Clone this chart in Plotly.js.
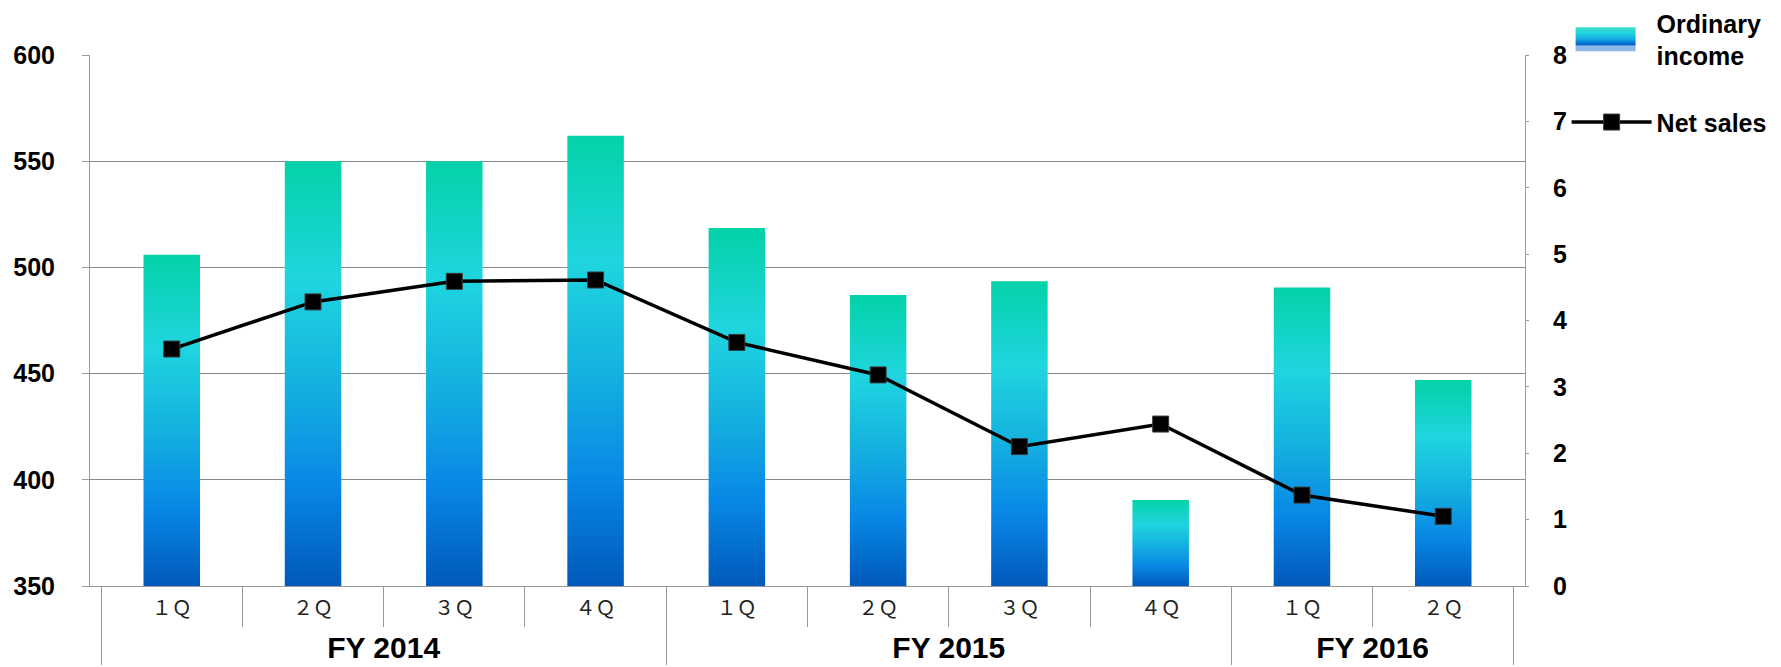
<!DOCTYPE html>
<html>
<head>
<meta charset="utf-8">
<script src="https://cdn.plot.ly/plotly-3.0.1.min.js"></script>
<style>
  html, body { margin: 0; padding: 0; background: #fff; }
  #chart { width: 1781px; height: 667px; }
</style>
</head>
<body>
<svg id="gradSvg" width="0" height="0" style="position:absolute;left:0;top:0">
  <defs id="gradDefs"></defs>
</svg>
<div id="chart"></div>
<script>
// ---- data ----
const fiscalYears = ['FY 2014', 'FY 2014', 'FY 2014', 'FY 2014',
                     'FY 2015', 'FY 2015', 'FY 2015', 'FY 2015',
                     'FY 2016', 'FY 2016'];
const quarters = ['１Ｑ', '２Ｑ', '３Ｑ', '４Ｑ',
                  '１Ｑ', '２Ｑ', '３Ｑ', '４Ｑ',
                  '１Ｑ', '２Ｑ'];
const ordinaryIncome = [506, 550, 550, 562, 518.5, 487, 493.5, 390.5, 490.5, 447];
const netSales = [3.57, 4.28, 4.59, 4.61, 3.67, 3.18, 2.10, 2.44, 1.37, 1.05];
const seriesNames = ['Ordinary<br>income', 'Net sales'];
const leftTicks = [350, 400, 450, 500, 550, 600];
const rightTicks = [0, 1, 2, 3, 4, 5, 6, 7, 8];

// ---- build ----
const yearLabel = y => '<br><span style="font-family:\'Liberation Sans\', Arial, sans-serif;font-size:30px;font-weight:bold;fill:#000">' + y + '</span>';
const quarterLabel = q => '<span style="font-size:20px">' + q + '</span>';
const xCats = [fiscalYears.map(yearLabel), quarters.map(quarterLabel)];

const boldFont = { family: "'Liberation Sans', Arial, sans-serif", size: 25, color: '#000', weight: 'bold' };

const data = [
  {
    type: 'bar',
    name: seriesNames[0],
    x: xCats,
    y: ordinaryIncome,
    width: 0.4,
    yaxis: 'y',
    legendgroup: 'a',
    marker: { color: '#17B4DF', line: { width: 0 } },
    hoverinfo: 'skip'
  },
  {
    type: 'scatter',
    mode: 'lines+markers',
    name: seriesNames[1],
    x: xCats,
    y: netSales,
    yaxis: 'y2',
    legendgroup: 'b',
    line: { color: '#000', width: 3.5 },
    marker: { symbol: 'square', size: 16, color: '#000', line: { color: '#3a3a3a', width: 1 } },
    hoverinfo: 'skip'
  }
];

const layout = {
  width: 1781,
  height: 667,
  margin: { l: 90, r: 256, t: 55, b: 81, pad: 0, autoexpand: false },
  paper_bgcolor: '#fff',
  plot_bgcolor: '#fff',
  showlegend: true,
  legend: {
    x: 1.029, xanchor: 'left',
    y: 1.103, yanchor: 'top',
    font: { family: "'Liberation Sans', Arial, sans-serif", size: 25, color: '#000', weight: 'bold' },
    itemwidth: 80,
    tracegroupgap: 31,
    bgcolor: 'rgba(0,0,0,0)',
    traceorder: 'grouped',
    valign: 'middle'
  },
  xaxis: {
    type: 'multicategory',
    showline: true,
    linecolor: '#999',
    linewidth: 1,
    ticks: 'outside',
    ticklen: 40,
    tickcolor: '#999',
    tickwidth: 1,
    showdividers: true,
    dividercolor: '#999',
    dividerwidth: 1,
    showgrid: false,
    ticklabelstandoff: 9,
    tickfont: { family: "'Noto Sans CJK JP', sans-serif", size: 16, color: '#222' }
  },
  yaxis: {
    range: [350, 600],
    tickvals: leftTicks,
    ticktext: leftTicks.map(String),
    showline: true,
    linecolor: '#999',
    linewidth: 1,
    ticks: 'outside',
    ticklen: 7,
    tickcolor: '#999',
    showgrid: true,
    gridcolor: '#8a8a8a',
    gridwidth: 1,
    zeroline: false,
    tickfont: boldFont,
    ticklabelstandoff: 22
  },
  yaxis2: {
    range: [0, 8],
    tickvals: rightTicks,
    ticktext: rightTicks.map(String),
    overlaying: 'y',
    side: 'right',
    showline: true,
    linecolor: '#999',
    linewidth: 1,
    ticks: 'outside',
    ticklen: 3,
    tickcolor: '#999',
    showgrid: false,
    zeroline: false,
    tickfont: boldFont,
    ticklabelstandoff: 19
  }
};

const barStops = [
  [0, '#04D2A8'],
  [0.28, '#1FD5DF'],
  [0.52, '#15B2DF'],
  [0.76, '#0888E6'],
  [1, '#0059BA']
];
const legendStops = [
  [0, '#3FDDC8'],
  [0.25, '#1FD5DF'],
  [0.5, '#12A8E2'],
  [0.72, '#0060C8'],
  [0.78, '#8CB8E8'],
  [1, '#8CB8E8']
];

function makeGrad(id, units, y1, y2, stops) {
  const NS = 'http://www.w3.org/2000/svg';
  const g = document.createElementNS(NS, 'linearGradient');
  g.setAttribute('id', id);
  g.setAttribute('gradientUnits', units);
  g.setAttribute('x1', 0); g.setAttribute('x2', 0);
  g.setAttribute('y1', y1); g.setAttribute('y2', y2);
  stops.forEach(s => {
    const st = document.createElementNS(NS, 'stop');
    st.setAttribute('offset', s[0]);
    st.setAttribute('stop-color', s[1]);
    g.appendChild(st);
  });
  document.getElementById('gradDefs').appendChild(g);
}

Plotly.newPlot('chart', data, layout, { staticPlot: true, displayModeBar: false }).then(gd => {
  const plotH = gd._fullLayout._size.h;
  gd.querySelectorAll('.barlayer .point path').forEach((p, i) => {
    const bb = p.getBBox();
    const top = Math.max(bb.y, 0);
    const bottom = Math.min(bb.y + bb.height, plotH);
    makeGrad('barGrad' + i, 'userSpaceOnUse', top, bottom, barStops);
    p.style.fill = 'url(#barGrad' + i + ')';
  });
  makeGrad('legendGrad', 'objectBoundingBox', 0, 1, legendStops);
  const legTraces = gd.querySelectorAll('.legend .traces');
  if (legTraces.length) {
    const lp = legTraces[0].querySelector('.legendpoints path');
    if (lp) {
      lp.setAttribute('d', 'M-36,-12H24V12H-36Z');
      lp.style.fill = 'url(#legendGrad)';
      lp.style.stroke = 'none';
    }
  }
});
</script>
</body>
</html>
